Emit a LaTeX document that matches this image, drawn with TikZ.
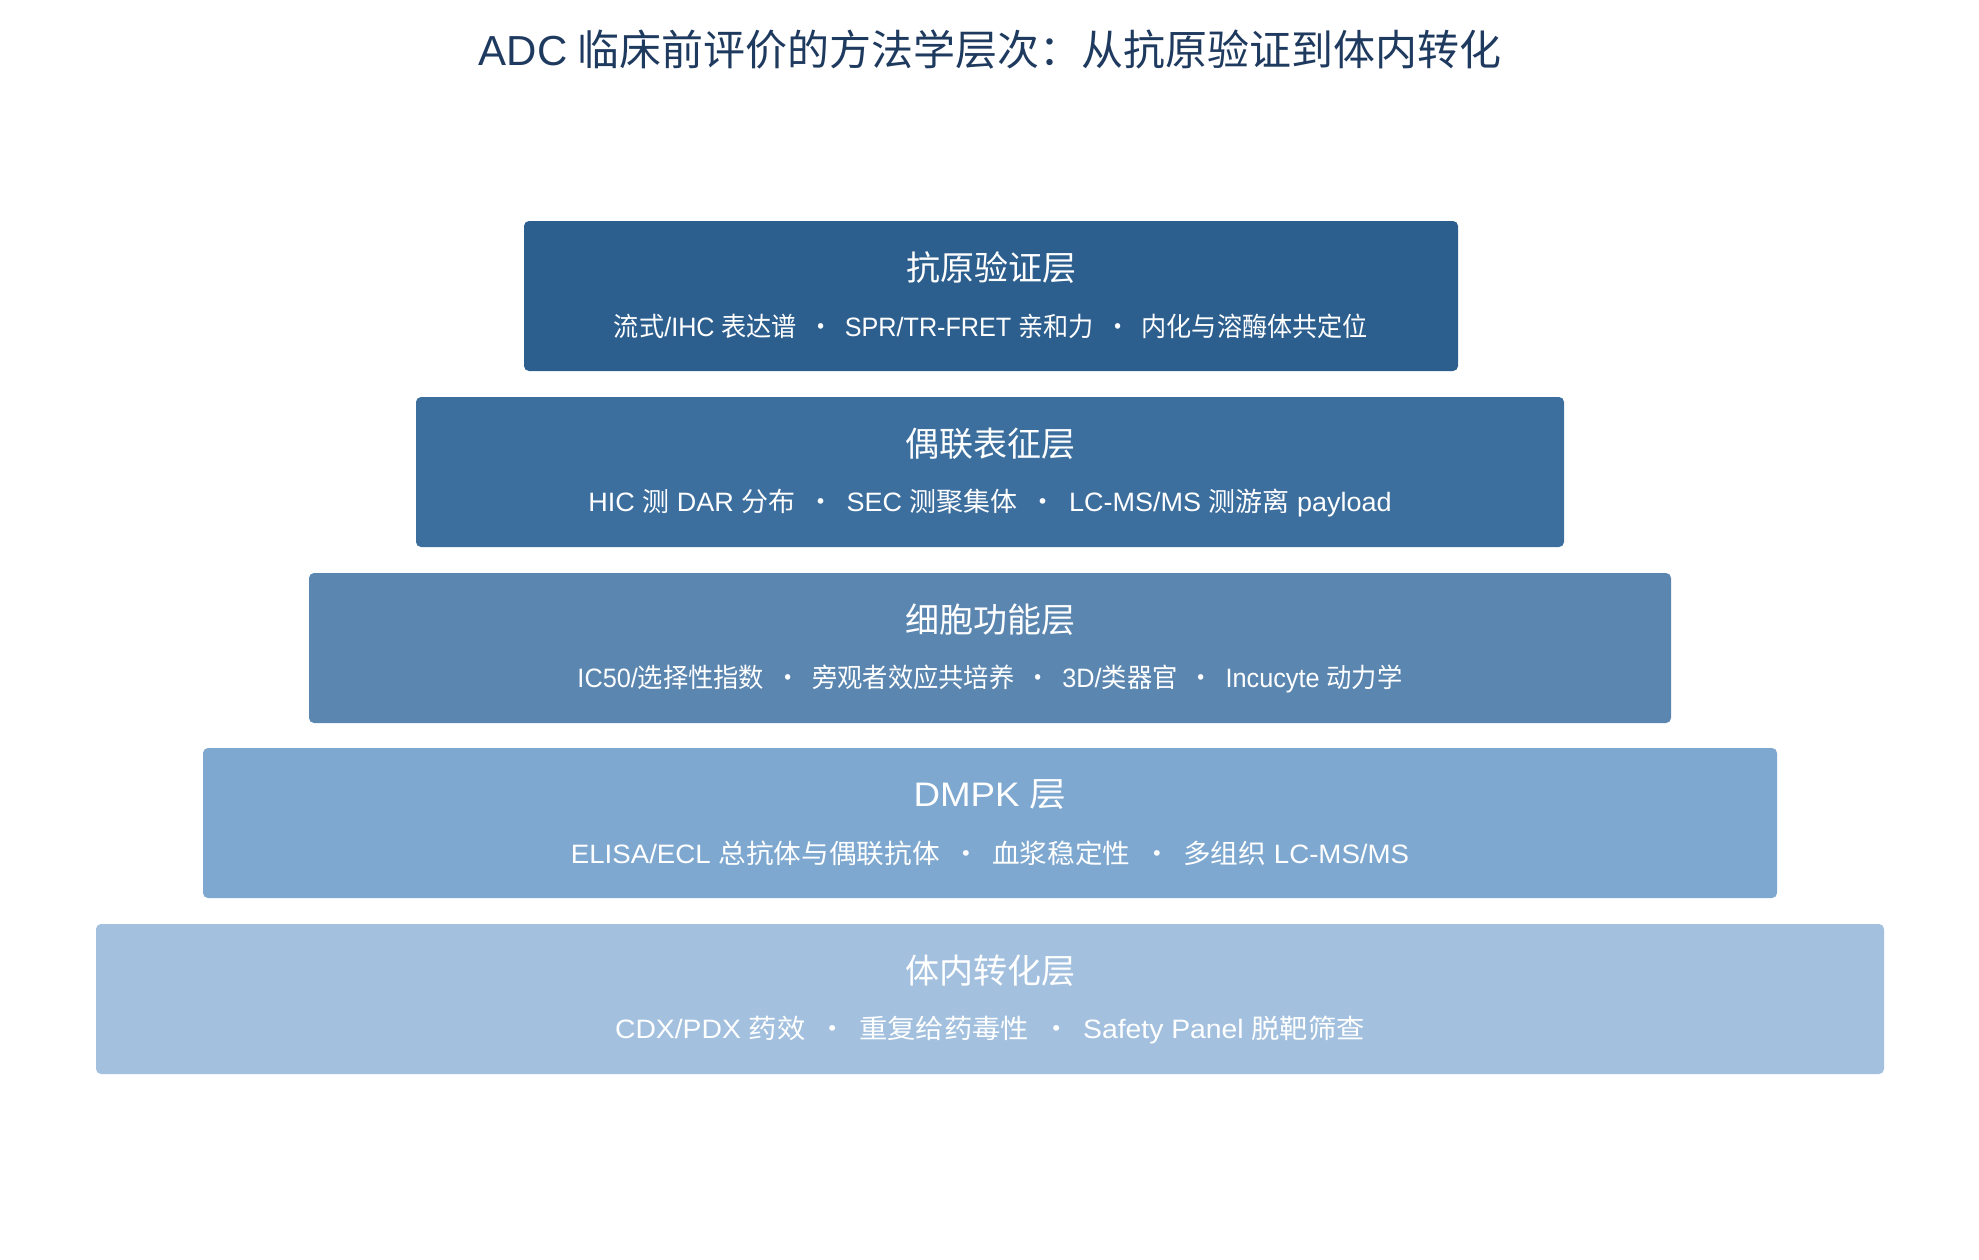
\documentclass[tikz,border=0pt]{standalone}
\usepackage{fontspec}
\setmainfont{Noto Sans CJK SC}
\newfontfamily\engfont{Liberation Sans}
\usepackage{graphicx}
\usepackage{tikz}
\usetikzlibrary{positioning}
\definecolor{titleblue}{HTML}{1F3A5F}
\definecolor{layerA}{HTML}{2D5F8E}
\definecolor{layerB}{HTML}{3C6E9E}
\definecolor{layerC}{HTML}{5B86B0}
\definecolor{layerD}{HTML}{7EA8CF}
\definecolor{layerE}{HTML}{A3C1DE}
\newcommand{\eng}[1]{{\engfont #1}}
\newcommand{\dotsep}{\hspace{0.45em}·\hspace{0.45em}}
\newcommand{\wide}[2]{\scalebox{#1}[1]{#2}}

\begin{document}
\begin{tikzpicture}[x=0.5pt,y=-0.5pt,
  layer/.style={rectangle,rounded corners=2.5pt,minimum height=75pt,inner sep=0pt},
  layername/.style={text=white,font=\fontsize{17}{20}\selectfont},
  layerinfo/.style={text=white,font=\fontsize{13.3}{16}\selectfont}]
\useasboundingbox (0,0) rectangle (1979,1259);
\node (title) [text=titleblue,font=\fontsize{21}{25}\selectfont] at (990,50) {\eng{ADC} 临床前评价的方法学层次：从抗原验证到体内转化};
% layers, top to bottom
\node (l1) [layer,fill=layerA,minimum width=467pt] at (991,296) {};
\node (l2) [layer,fill=layerB,minimum width=574pt] at (990,472) {};
\node (l3) [layer,fill=layerC,minimum width=681pt] at (990,648) {};
\node (l4) [layer,fill=layerD,minimum width=787pt] at (990,823) {};
\node (l5) [layer,fill=layerE,minimum width=894pt] at (990,999) {};
\node (n1) [layername] at ([yshift=-23.5pt]l1.north) {抗原验证层};
\node (i1) [layerinfo] at ([yshift=-53pt]l1.north) {\wide{0.946}{流式\eng{/IHC }表达谱\dotsep\eng{SPR/TR-FRET }亲和力\dotsep 内化与溶酶体共定位}};
\node (n2) [layername] at ([yshift=-23.5pt]l2.north) {偶联表征层};
\node (i2) [layerinfo] at ([yshift=-53pt]l2.north) {\wide{1.015}{\eng{HIC }测\eng{ DAR }分布\dotsep\eng{SEC }测聚集体\dotsep\eng{LC-MS/MS }测游离\eng{ payload}}};
\node (n3) [layername] at ([yshift=-23.5pt]l3.north) {细胞功能层};
\node (i3) [layerinfo] at ([yshift=-53pt]l3.north) {\wide{0.95}{\eng{IC50/}选择性指数\dotsep 旁观者效应共培养\dotsep\eng{3D/}类器官\dotsep\eng{Incucyte }动力学}};
\node (n4) [layername] at ([yshift=-23.5pt]l4.north) {\wide{1.08}{\eng{DMPK }层}};
\node (i4) [layerinfo] at ([yshift=-53pt]l4.north) {\wide{1.04}{\eng{ELISA/ECL }总抗体与偶联抗体\dotsep 血浆稳定性\dotsep 多组织\eng{ LC-MS/MS}}};
\node (n5) [layername] at ([yshift=-23.5pt]l5.north) {体内转化层};
\node (i5) [layerinfo] at ([yshift=-53pt]l5.north) {\wide{1.065}{\eng{CDX/PDX }药效\dotsep 重复给药毒性\dotsep\eng{Safety Panel }脱靶筛查}};
\end{tikzpicture}
\end{document}
